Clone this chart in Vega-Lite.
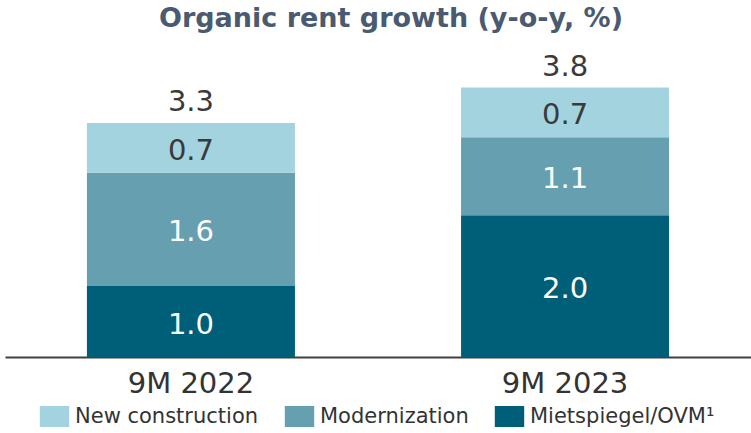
{
  "$schema": "https://vega.github.io/schema/vega-lite/v6.json",
  "autosize": {"type": "none"},
  "width": 746,
  "height": 312,
  "padding": {"left": 5, "top": 45, "right": 0, "bottom": 76},
  "background": "white",
  "config": {
    "view": {"stroke": null},
    "font": "DejaVu Sans"
  },
  "title": {
    "text": "Organic rent growth (y-o-y, %)",
    "font": "DejaVu Sans",
    "fontSize": 27,
    "fontWeight": "bold",
    "color": "#4a5a70",
    "anchor": "middle",
    "dx": 13,
    "offset": 12
  },
  "data": {
    "values": [
      {"period": "9M 2022", "component": "Mietspiegel/OVM¹", "value": 1.0, "rank": 1, "total": 3.3},
      {"period": "9M 2022", "component": "Modernization", "value": 1.6, "rank": 2, "total": 3.3},
      {"period": "9M 2022", "component": "New construction", "value": 0.7, "rank": 3, "total": 3.3},
      {"period": "9M 2023", "component": "Mietspiegel/OVM¹", "value": 2.0, "rank": 1, "total": 3.8},
      {"period": "9M 2023", "component": "Modernization", "value": 1.1, "rank": 2, "total": 3.8},
      {"period": "9M 2023", "component": "New construction", "value": 0.7, "rank": 3, "total": 3.8}
    ]
  },
  "encoding": {
    "x": {
      "field": "period",
      "type": "nominal",
      "scale": {"paddingInner": 0.444, "paddingOuter": 0.219},
      "axis": {
        "title": null,
        "labelAngle": 0,
        "labelFont": "DejaVu Sans",
        "labelFontSize": 29,
        "labelColor": "#333333",
        "labelPadding": 12,
        "ticks": false,
        "domainColor": "#404040",
        "domainWidth": 2,
        "grid": false
      }
    }
  },
  "layer": [
    {
      "mark": {"type": "bar"},
      "encoding": {
        "y": {
          "field": "value",
          "type": "quantitative",
          "stack": "zero",
          "scale": {"domain": [0, 4.4], "nice": false},
          "axis": null
        },
        "order": {"field": "rank", "type": "quantitative", "sort": "ascending"},
        "color": {
          "field": "component",
          "type": "nominal",
          "scale": {
            "domain": ["New construction", "Modernization", "Mietspiegel/OVM¹"],
            "range": ["#a3d3df", "#659fb0", "#005f78"]
          },
          "legend": {
            "title": null,
            "orient": "none",
            "direction": "horizontal",
            "legendX": 39,
            "legendY": 361,
            "symbolType": "M-1.4,-1H1.4V1H-1.4Z",
            "symbolSize": 441,
            "symbolStrokeWidth": 0,
            "symbolOpacity": 1,
            "labelFont": "DejaVu Sans",
            "labelFontSize": 21,
            "labelColor": "#333333",
            "labelOffset": 10,
            "columnPadding": 25,
            "labelLimit": 300
          }
        }
      }
    },
    {
      "mark": {"type": "text", "fontSize": 29, "font": "DejaVu Sans", "dy": 3},
      "encoding": {
        "y": {
          "field": "value",
          "type": "quantitative",
          "stack": "zero",
          "bandPosition": 0.5
        },
        "order": {"field": "rank", "type": "quantitative", "sort": "ascending"},
        "text": {"field": "value", "type": "quantitative", "format": ".1f"},
        "color": {
          "condition": {"test": "datum.component === 'New construction'", "value": "#3a3a3a"},
          "value": "#ffffff"
        }
      }
    },
    {
      "transform": [{"filter": "datum.rank === 3"}],
      "mark": {"type": "text", "fontSize": 29, "font": "DejaVu Sans", "baseline": "alphabetic", "dy": -12, "color": "#3a3a3a"},
      "encoding": {
        "y": {"field": "total", "type": "quantitative"},
        "text": {"field": "total", "type": "quantitative", "format": ".1f"}
      }
    }
  ]
}
